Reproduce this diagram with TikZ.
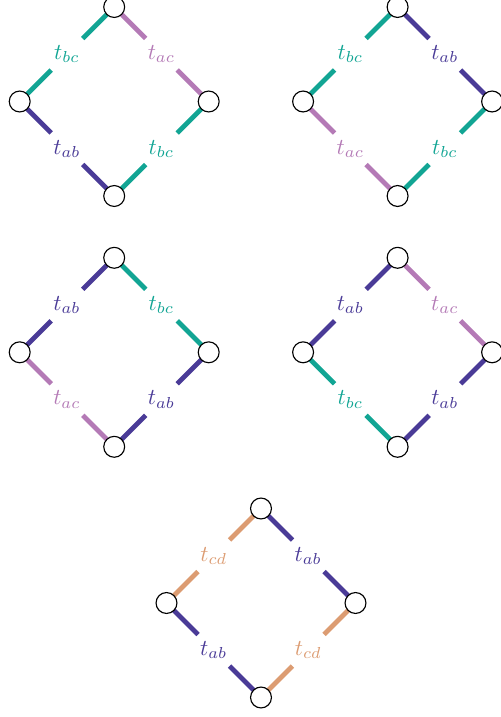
\documentclass[tikz,border=0pt]{standalone}
\usetikzlibrary{calc,backgrounds}
\definecolor{cbc}{HTML}{12A594}
\definecolor{cac}{HTML}{B47AB6}
\definecolor{cab}{HTML}{4A3B97}
\definecolor{ccd}{HTML}{DC9C72}
\tikzset{
  vtx/.style={circle,draw=black,fill=white,line width=0.5pt,minimum size=9.2pt,inner sep=0pt},
  edgeline/.style={line width=2.1pt,line cap=butt},
  lbl/.style={inner sep=1pt}
}
\newcommand\edg[4]{%
  \begin{scope}[on background layer]
    \draw[edgeline,draw=c#3] (#1.center) -- ($(#1)!1/3!(#2)$);
    \draw[edgeline,draw=c#3] (#2.center) -- ($(#2)!1/3!(#1)$);
  \end{scope}
  \node[lbl,text=c#3] (#4) at ($(#1)!0.5!(#2)$) {$t_{#3}$};%
}
\newcommand\dmd[7]{%
  \node[vtx] (#1T) at (#2,#3-94.5) {};
  \node[vtx] (#1L) at (#2-94.5,#3) {};
  \node[vtx] (#1R) at (#2+94.5,#3) {};
  \node[vtx] (#1B) at (#2,#3+94.5) {};
  \edg{#1T}{#1L}{#4}{#1la}
  \edg{#1T}{#1R}{#5}{#1lb}
  \edg{#1L}{#1B}{#6}{#1lc}
  \edg{#1R}{#1B}{#7}{#1ld}
}
\begin{document}
\begin{tikzpicture}[x=0.44pt,y=-0.44pt]
  \useasboundingbox (0,0) rectangle (500,717);
  \dmd{tl}{114.2}{101.5}{bc}{ac}{ab}{bc}
  \dmd{tr}{397.6}{101.5}{bc}{ab}{ac}{bc}
  \dmd{ml}{114.2}{352.3}{ab}{bc}{ac}{ab}
  \dmd{mr}{397.6}{352.3}{ab}{ac}{bc}{ab}
  \dmd{bo}{261}{603}{cd}{ab}{ab}{cd}
\end{tikzpicture}
\end{document}
